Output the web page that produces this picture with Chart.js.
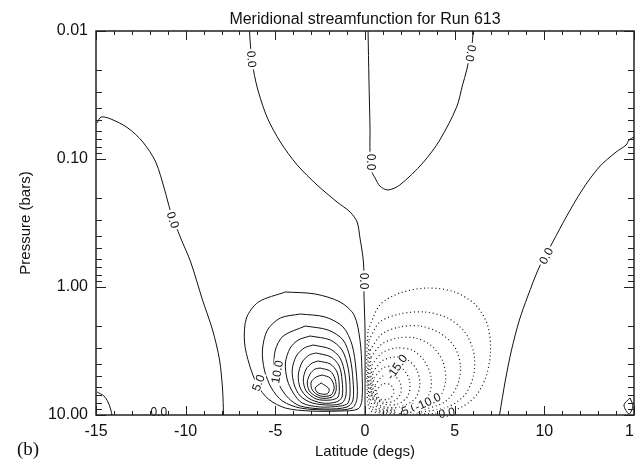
<!DOCTYPE html>
<html>
<head>
<meta charset="utf-8">
<script src="https://cdn.jsdelivr.net/npm/chart.js@4.4.0/dist/chart.umd.min.js"></script>
<style>
  html, body { margin: 0; padding: 0; background: #fff; overflow: hidden; }
  canvas { display: block; }
</style>
</head>
<body>
<canvas id="streamChart" width="660" height="465"></canvas>
<script>
// contour traces, as [latitude (degs), pressure (bars)]
const zeroWest = [[-14.94, 0.0523], [-14.72, 0.047], [-14.17, 0.0487], [-13.22, 0.0573], [-12.39, 0.0736],
  [-11.67, 0.1055], [-11.17, 0.1746], [-10.83, 0.2596], [-10.28, 0.414], [-9.72, 0.638], [-9.06, 1.264],
  [-8.5, 2.168], [-8.11, 3.72], [-7.94, 6.38], [-7.89, 10]];
const zeroCentre = [[-6.44, 0.01], [-6.39, 0.01286], [-6.22, 0.0202], [-5.94, 0.03], [-5.44, 0.0479],
  [-4.72, 0.0736], [-3.78, 0.1114], [-2.67, 0.1596], [-1.56, 0.2168], [-0.83, 0.2596], [-0.44, 0.3107],
  [-0.28, 0.414], [-0.11, 0.593], [-0.06, 0.764], [-0.06, 1.094], [0, 2.168], [0, 10]];
const zeroTopEast = [[0.17, 0.01], [0.22, 0.0242], [0.28, 0.0593], [0.28, 0.0882], [0.39, 0.1263],
  [0.56, 0.1406], [0.83, 0.1627], [1.28, 0.1746], [1.94, 0.1596], [3.22, 0.1075], [4.17, 0.0711],
  [5.11, 0.0393], [5.44, 0.0264], [5.67, 0.0202], [6.0, 0.01175], [6.0, 0.01]];
const zeroEast = [[15, 0.0673], [14.72, 0.0711], [14.56, 0.0778], [14.0, 0.0882], [13.06, 0.1155],
  [12.11, 0.1746], [11.22, 0.2839], [10.44, 0.453], [9.72, 0.698], [9.06, 1.197], [8.61, 1.811],
  [8.17, 3.107], [7.83, 5.33], [7.5, 10]];
const zeroCornerWest = [[-14.94, 6.61], [-14.56, 7.1], [-14.33, 7.92], [-14.17, 9.14], [-14.11, 10]];
const zeroCornerEast = [[14.78, 7.36], [14.44, 8.36], [14.72, 9.82], [14.94, 8.51]];

// positive (solid) cell, outermost first
const posLoops = [
  [[-4.44, 1.094], [-2.78, 1.134], [-1.39, 1.31], [-0.61, 1.655], [-0.28, 2.594], [-0.17, 4.45], [-0.17, 7.64],
   [-0.39, 8.98], [-1.39, 9.31], [-3.06, 9.31], [-4.44, 8.82], [-5.39, 7.5], [-6.0, 5.83], [-6.44, 4.07],
   [-6.72, 2.69], [-6.61, 1.747], [-5.94, 1.31]],
  [[-3.61, 1.625], [-2.22, 1.716], [-1.22, 2.054], [-0.72, 2.839], [-0.5, 4.45], [-0.44, 7.36], [-0.72, 8.82],
   [-1.94, 9.14], [-3.61, 8.82], [-4.61, 7.77], [-5.22, 6.15], [-5.61, 4.45], [-5.72, 3.107], [-5.44, 2.168],
   [-4.72, 1.747]],
  [[-3.33, 2.018], [-2.06, 2.168], [-1.22, 2.594], [-0.83, 3.588], [-0.67, 5.33], [-0.67, 7.64], [-1.0, 8.66],
   [-2.22, 8.98], [-3.61, 8.51], [-4.28, 7.36], [-4.78, 5.83], [-5.06, 4.3], [-5.0, 3.107], [-4.56, 2.414]],
  [[-3.06, 2.414], [-1.94, 2.594], [-1.28, 3.107], [-0.94, 4.3], [-0.83, 6.38], [-0.94, 8.06], [-1.39, 8.51],
   [-2.5, 8.66], [-3.5, 8.06], [-4.0, 6.73], [-4.33, 5.33], [-4.44, 3.925], [-4.17, 2.997], [-3.72, 2.594]],
  [[-2.89, 2.839], [-1.94, 3.051], [-1.39, 3.588], [-1.11, 4.87], [-1.06, 6.98], [-1.28, 8.06], [-1.94, 8.36],
   [-2.94, 8.06], [-3.61, 7.1], [-3.94, 5.83], [-4.06, 4.45], [-3.83, 3.461], [-3.39, 2.997]],
  [[-2.72, 3.279], [-1.89, 3.524], [-1.44, 4.142], [-1.28, 5.33], [-1.28, 7.23], [-1.61, 7.92], [-2.39, 8.06],
   [-3.17, 7.36], [-3.61, 6.15], [-3.72, 4.87], [-3.5, 3.855], [-3.11, 3.399]],
  [[-2.61, 3.786], [-1.94, 3.996], [-1.56, 4.614], [-1.44, 5.83], [-1.5, 7.23], [-1.94, 7.64], [-2.72, 7.5],
   [-3.28, 6.49], [-3.44, 5.33], [-3.28, 4.372], [-2.94, 3.925]],
  [[-2.5, 4.3], [-1.94, 4.532], [-1.67, 5.232], [-1.61, 6.38], [-1.83, 7.23], [-2.5, 7.36], [-3.06, 6.61],
   [-3.22, 5.62], [-3.06, 4.783], [-2.78, 4.372]],
  [[-2.39, 4.87], [-1.94, 5.139], [-1.72, 6.04], [-1.89, 6.98], [-2.5, 7.1], [-2.94, 6.38], [-3.0, 5.52],
   [-2.72, 5.048]],
  [[-2.44, 5.62], [-2.0, 6.26], [-2.11, 6.85], [-2.61, 6.73], [-2.78, 6.15]]
];

// negative (dotted) cell, outermost first
const negLoops = [
  [[0.17, 2.168], [0.83, 1.382], [1.94, 1.114], [3.5, 1.018], [5.0, 1.094], [6.17, 1.382], [6.83, 1.981],
   [7.0, 3.107], [6.78, 4.87], [6.22, 6.98], [5.39, 8.66], [4.17, 9.65], [2.5, 9.82], [1.11, 9.65],
   [0.28, 9.14], [0.11, 5.33], [0.11, 3.107]],
  [[0.22, 2.594], [0.83, 1.877], [1.94, 1.625], [3.33, 1.568], [4.61, 1.747], [5.56, 2.247], [6.06, 3.221],
   [6.06, 4.87], [5.56, 6.98], [4.61, 8.66], [3.06, 9.48], [1.39, 9.48], [0.39, 8.98], [0.17, 5.83], [0.17, 3.72]],
  [[0.28, 3.107], [0.94, 2.329], [1.94, 2.054], [3.06, 2.018], [4.17, 2.288], [5.0, 2.943], [5.33, 4.22],
   [5.11, 6.04], [4.44, 7.92], [3.06, 9.14], [1.5, 9.31], [0.5, 8.82], [0.22, 6.15], [0.22, 4.3]],
  [[0.33, 3.524], [0.94, 2.789], [1.83, 2.503], [2.83, 2.503], [3.72, 2.891], [4.33, 3.786], [4.5, 5.33],
   [4.17, 7.23], [3.33, 8.66], [1.94, 9.14], [0.72, 8.82], [0.33, 6.61], [0.28, 4.783]],
  [[0.39, 4.068], [0.94, 3.279], [1.72, 2.997], [2.61, 3.107], [3.28, 3.72], [3.67, 4.958], [3.61, 6.73],
   [3.06, 8.21], [1.94, 8.98], [0.83, 8.66], [0.39, 6.98], [0.33, 5.33]],
  [[0.44, 4.614], [0.94, 3.786], [1.67, 3.524], [2.39, 3.72], [2.89, 4.45], [3.06, 5.83], [2.78, 7.5],
   [1.94, 8.66], [0.94, 8.51], [0.44, 7.23], [0.39, 5.83]],
  [[0.5, 5.139], [1.0, 4.3], [1.61, 4.142], [2.17, 4.45], [2.5, 5.52], [2.39, 7.1], [1.83, 8.21], [1.06, 8.21],
   [0.56, 7.23], [0.44, 6.04]],
  [[0.56, 5.83], [1.0, 4.958], [1.56, 4.87], [1.94, 5.52], [2.0, 6.73], [1.61, 7.77], [1.0, 7.92], [0.61, 7.1]],
  [[0.61, 6.49], [1.0, 5.724], [1.44, 5.83], [1.61, 6.73], [1.33, 7.5], [0.83, 7.5]]
];

const xTickValues = [-15, -10, -5, 0, 5, 10, 15];
const yTickValues = [0.01, 0.1, 1, 10];

// in-line contour labels
const contourLabels = [
  { text: '0.0', lat: -6.33, p: 0.0166, angle: 85 },
  { text: '0.0', lat: -10.72, p: 0.30, angle: 72 },
  { text: '0.0', lat: -0.06, p: 0.898, angle: 90 },
  { text: '0.0', lat: 0.33, p: 0.1055, angle: 90 },
  { text: '0.0', lat: 5.89, p: 0.0149, angle: 100 },
  { text: '0.0', lat: 10.11, p: 0.573, angle: -62 },
  { text: '0.0', lat: -11.5, p: 9.48, angle: 0 },
  { text: '0.0', lat: 4.56, p: 9.65, angle: -10 },
  { text: '5.0', lat: -5.94, p: 5.62, angle: -70 },
  { text: '10.0', lat: -4.89, p: 4.61, angle: -80 },
  { text: '-15.0', lat: 1.78, p: 4.22, angle: -55 },
  { text: '-5.0', lat: 2.39, p: 9.14, angle: -20 },
  { text: '-10.0', lat: 3.5, p: 7.92, angle: -25 }
];

const FONT = '"Liberation Sans", Arial, Helvetica, sans-serif';
const INK = '#111';

function toPoints(arr, closed) {
  const pts = arr.map(([lat, p]) => ({ x: lat, y: p }));
  if (closed) pts.push({ ...pts[0] });
  return pts;
}

function contour(arr, closed, dotted) {
  return {
    data: toPoints(arr, closed),
    borderColor: INK,
    borderWidth: dotted ? 1.2 : 1,
    borderDash: dotted ? [1, 2.8] : [],
    pointRadius: 0,
    tension: 0.3,
    fill: false
  };
}

const datasets = [
  contour(zeroWest, false, false),
  contour(zeroCentre, false, false),
  contour(zeroTopEast, false, false),
  contour(zeroEast, false, false),
  contour(zeroCornerWest, false, false),
  contour(zeroCornerEast, true, false),
  ...posLoops.map(l => contour(l, true, false)),
  ...negLoops.map(l => contour(l, true, true))
];

const framePlugin = {
  id: 'framePlugin',
  afterDatasetsDraw(chart) {
    const { ctx, chartArea: a, scales: { x, y } } = chart;
    ctx.save();

    // contour labels break the lines
    ctx.font = '12px ' + FONT;
    ctx.textAlign = 'center';
    ctx.textBaseline = 'middle';
    contourLabels.forEach(l => {
      const px = x.getPixelForValue(l.lat);
      const py = y.getPixelForValue(l.p);
      const w = ctx.measureText(l.text).width;
      ctx.save();
      ctx.translate(px, py);
      ctx.rotate(l.angle * Math.PI / 180);
      ctx.fillStyle = '#fff';
      ctx.fillRect(-w / 2 - 2, -5, w + 4, 10);
      ctx.fillStyle = INK;
      ctx.fillText(l.text, 0, 0.5);
      ctx.restore();
    });

    // inward ticks on all four sides
    ctx.strokeStyle = '#222';
    ctx.lineWidth = 1;
    ctx.beginPath();
    for (let v = -15; v <= 15; v++) {
      const px = Math.round(x.getPixelForValue(v)) + 0.5;
      const len = v % 5 === 0 ? 9 : 4;
      ctx.moveTo(px, a.bottom); ctx.lineTo(px, a.bottom - len);
      ctx.moveTo(px, a.top); ctx.lineTo(px, a.top + len);
    }
    for (let d = 0.01; d < 10.5; d *= 10) {
      for (let m = 1; m <= 9; m++) {
        const v = d * m;
        if (v > 10.001) break;
        const py = Math.round(y.getPixelForValue(v)) + 0.5;
        const len = m === 1 ? 10 : 6;
        ctx.moveTo(a.left, py); ctx.lineTo(a.left + len, py);
        ctx.moveTo(a.right, py); ctx.lineTo(a.right - len, py);
      }
    }
    ctx.stroke();

    ctx.lineWidth = 1.5;
    ctx.strokeRect(a.left, a.top, a.right - a.left, a.bottom - a.top);
    ctx.restore();
  },
  afterDraw(chart) {
    const { ctx, chartArea: a } = chart;
    ctx.save();
    ctx.fillStyle = INK;
    ctx.textAlign = 'center';
    ctx.textBaseline = 'alphabetic';
    ctx.font = '16px ' + FONT;
    ctx.fillText('Meridional streamfunction for Run 613', (a.left + a.right) / 2, 24);
    ctx.textAlign = 'left';
    ctx.font = '19px "Liberation Serif", "Times New Roman", serif';
    ctx.fillText('(b)', 17, 455);
    ctx.restore();
  }
};

new Chart(document.getElementById('streamChart'), {
  type: 'line',
  data: { datasets },
  options: {
    responsive: false,
    animation: false,
    devicePixelRatio: 1,
    layout: { padding: { top: 31, right: 26, bottom: 0, left: 0 } },
    plugins: { legend: { display: false }, tooltip: { enabled: false }, title: { display: false } },
    scales: {
      x: {
        type: 'linear',
        min: -15,
        max: 15,
        grid: { display: false, drawTicks: false },
        border: { display: false },
        afterBuildTicks: s => { s.ticks = xTickValues.map(v => ({ value: v })); },
        afterFit: s => { s.height = 50; },
        ticks: { padding: 7, color: INK, font: { family: FONT, size: 16 }, maxRotation: 0, callback: v => String(v) },
        title: { display: true, text: 'Latitude (degs)', color: INK, font: { family: FONT, size: 15 }, padding: { top: 0, bottom: 4 } }
      },
      y: {
        type: 'logarithmic',
        reverse: true,
        min: 0.01,
        max: 10,
        grid: { display: false, drawTicks: false },
        border: { display: false },
        afterBuildTicks: s => { s.ticks = yTickValues.map(v => ({ value: v })); },
        afterFit: s => { s.width = 96; },
        ticks: { padding: 8, color: INK, font: { family: FONT, size: 16 }, callback: v => Number(v).toFixed(2) },
        title: { display: true, text: 'Pressure (bars)', color: INK, font: { family: FONT, size: 15 }, padding: { top: 17, bottom: 0 } }
      }
    }
  },
  plugins: [framePlugin]
});
</script>
</body>
</html>
